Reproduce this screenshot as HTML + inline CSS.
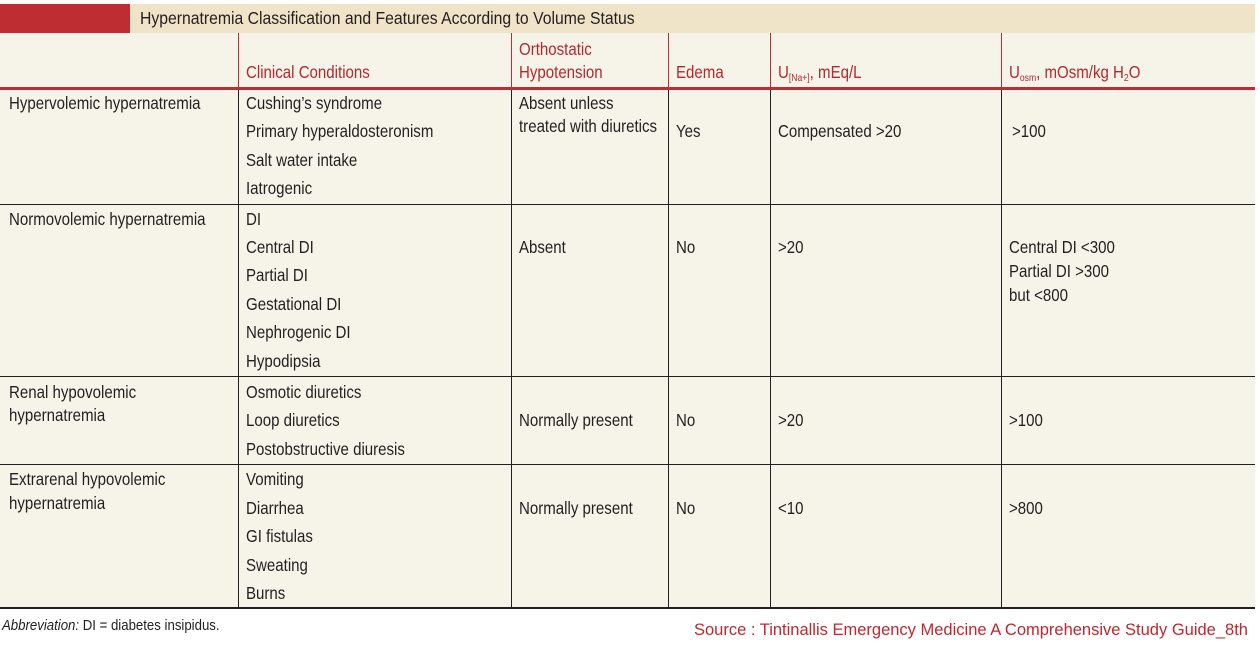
<!DOCTYPE html>
<html><head><meta charset="utf-8"><style>
body{margin:0;width:1260px;height:647px;background:#fff;position:relative;overflow:hidden;font-family:"Liberation Sans",sans-serif;color:#231f20;font-size:17.5px}
.a{position:absolute;white-space:nowrap;line-height:20px;transform:scaleX(0.86);transform-origin:0 0}
.r{color:#b5282e}
.v{position:absolute;width:1px;background:#231f20}
.h{position:absolute;height:1px;background:#231f20;left:0;width:1255px}
sub{font-size:10px;vertical-align:-3px}
</style></head><body>
<div style="position:absolute;left:0;top:4px;width:1255px;height:29px;background:#efe3c8"></div>
<div style="position:absolute;left:0;top:4px;width:130px;height:29px;background:#be2d32"></div>
<div class="a" style="left:140px;top:8px;font-size:17.5px;transform:scaleX(0.9)">Hypernatremia Classification and Features According to Volume Status</div>
<div style="position:absolute;left:0;top:33px;width:1255px;height:575px;background:#f6f3e8"></div>
<div style="position:absolute;left:0;top:87px;width:1255px;height:3px;background:#be2d32"></div>
<div class="v" style="left:238px;top:33px;height:55px;background:#be2d32"></div>
<div class="v" style="left:511px;top:33px;height:55px;background:#be2d32"></div>
<div class="v" style="left:668px;top:33px;height:55px;background:#be2d32"></div>
<div class="v" style="left:770px;top:33px;height:55px;background:#be2d32"></div>
<div class="v" style="left:1001px;top:33px;height:55px;background:#be2d32"></div>
<div class="v" style="left:238px;top:90px;height:518px"></div>
<div class="v" style="left:511px;top:90px;height:518px"></div>
<div class="v" style="left:668px;top:90px;height:518px"></div>
<div class="v" style="left:770px;top:90px;height:518px"></div>
<div class="v" style="left:1001px;top:90px;height:518px"></div>
<div class="h" style="top:204px"></div>
<div class="h" style="top:376px"></div>
<div class="h" style="top:464px"></div>
<div class="h" style="top:607px;height:2px"></div>
<div class="a r" style="left:246px;top:62px">Clinical Conditions</div>
<div class="a r" style="left:519px;top:39px">Orthostatic</div>
<div class="a r" style="left:519px;top:62px">Hypotension</div>
<div class="a r" style="left:676px;top:62px">Edema</div>
<div class="a r" style="left:778px;top:62px">U<sub>[Na+]</sub>, mEq/L</div>
<div class="a r" style="left:1009px;top:62px">U<sub>osm</sub>, mOsm/kg H<sub>2</sub>O</div>

<div class="a" style="left:9px;top:93px">Hypervolemic hypernatremia</div>
<div class="a" style="left:246px;top:93px">Cushing’s syndrome</div>
<div class="a" style="left:246px;top:121px">Primary hyperaldosteronism</div>
<div class="a" style="left:246px;top:150px">Salt water intake</div>
<div class="a" style="left:246px;top:178px">Iatrogenic</div>
<div class="a" style="left:519px;top:93px">Absent unless</div>
<div class="a" style="left:519px;top:116px">treated with diuretics</div>
<div class="a" style="left:676px;top:121px">Yes</div>
<div class="a" style="left:778px;top:121px">Compensated &gt;20</div>
<div class="a" style="left:1012px;top:121px">&gt;100</div>

<div class="a" style="left:9px;top:209px">Normovolemic hypernatremia</div>
<div class="a" style="left:246px;top:209px">DI</div>
<div class="a" style="left:246px;top:237px">Central DI</div>
<div class="a" style="left:246px;top:265px">Partial DI</div>
<div class="a" style="left:246px;top:294px">Gestational DI</div>
<div class="a" style="left:246px;top:322px">Nephrogenic DI</div>
<div class="a" style="left:246px;top:351px">Hypodipsia</div>
<div class="a" style="left:519px;top:237px">Absent</div>
<div class="a" style="left:676px;top:237px">No</div>
<div class="a" style="left:778px;top:237px">&gt;20</div>
<div class="a" style="left:1009px;top:237px">Central DI &lt;300</div>
<div class="a" style="left:1009px;top:261px">Partial DI &gt;300</div>
<div class="a" style="left:1009px;top:285px">but &lt;800</div>

<div class="a" style="left:9px;top:382px">Renal hypovolemic</div>
<div class="a" style="left:9px;top:405px">hypernatremia</div>
<div class="a" style="left:246px;top:382px">Osmotic diuretics</div>
<div class="a" style="left:246px;top:410px">Loop diuretics</div>
<div class="a" style="left:246px;top:439px">Postobstructive diuresis</div>
<div class="a" style="left:519px;top:410px">Normally present</div>
<div class="a" style="left:676px;top:410px">No</div>
<div class="a" style="left:778px;top:410px">&gt;20</div>
<div class="a" style="left:1009px;top:410px">&gt;100</div>

<div class="a" style="left:9px;top:469px">Extrarenal hypovolemic</div>
<div class="a" style="left:9px;top:493px">hypernatremia</div>
<div class="a" style="left:246px;top:469px">Vomiting</div>
<div class="a" style="left:246px;top:498px">Diarrhea</div>
<div class="a" style="left:246px;top:526px">GI fistulas</div>
<div class="a" style="left:246px;top:555px">Sweating</div>
<div class="a" style="left:246px;top:583px">Burns</div>
<div class="a" style="left:519px;top:498px">Normally present</div>
<div class="a" style="left:676px;top:498px">No</div>
<div class="a" style="left:778px;top:498px">&lt;10</div>
<div class="a" style="left:1009px;top:498px">&gt;800</div>

<div class="a" style="left:2px;top:616px;font-size:15px;transform:scaleX(0.88)"><i>Abbreviation:</i> DI = diabetes insipidus.</div>
<div class="a" style="left:694px;top:620px;font-size:16.5px;color:#c0272d;transform:none">Source : Tintinallis Emergency Medicine A Comprehensive Study Guide_8th</div>
</body></html>
